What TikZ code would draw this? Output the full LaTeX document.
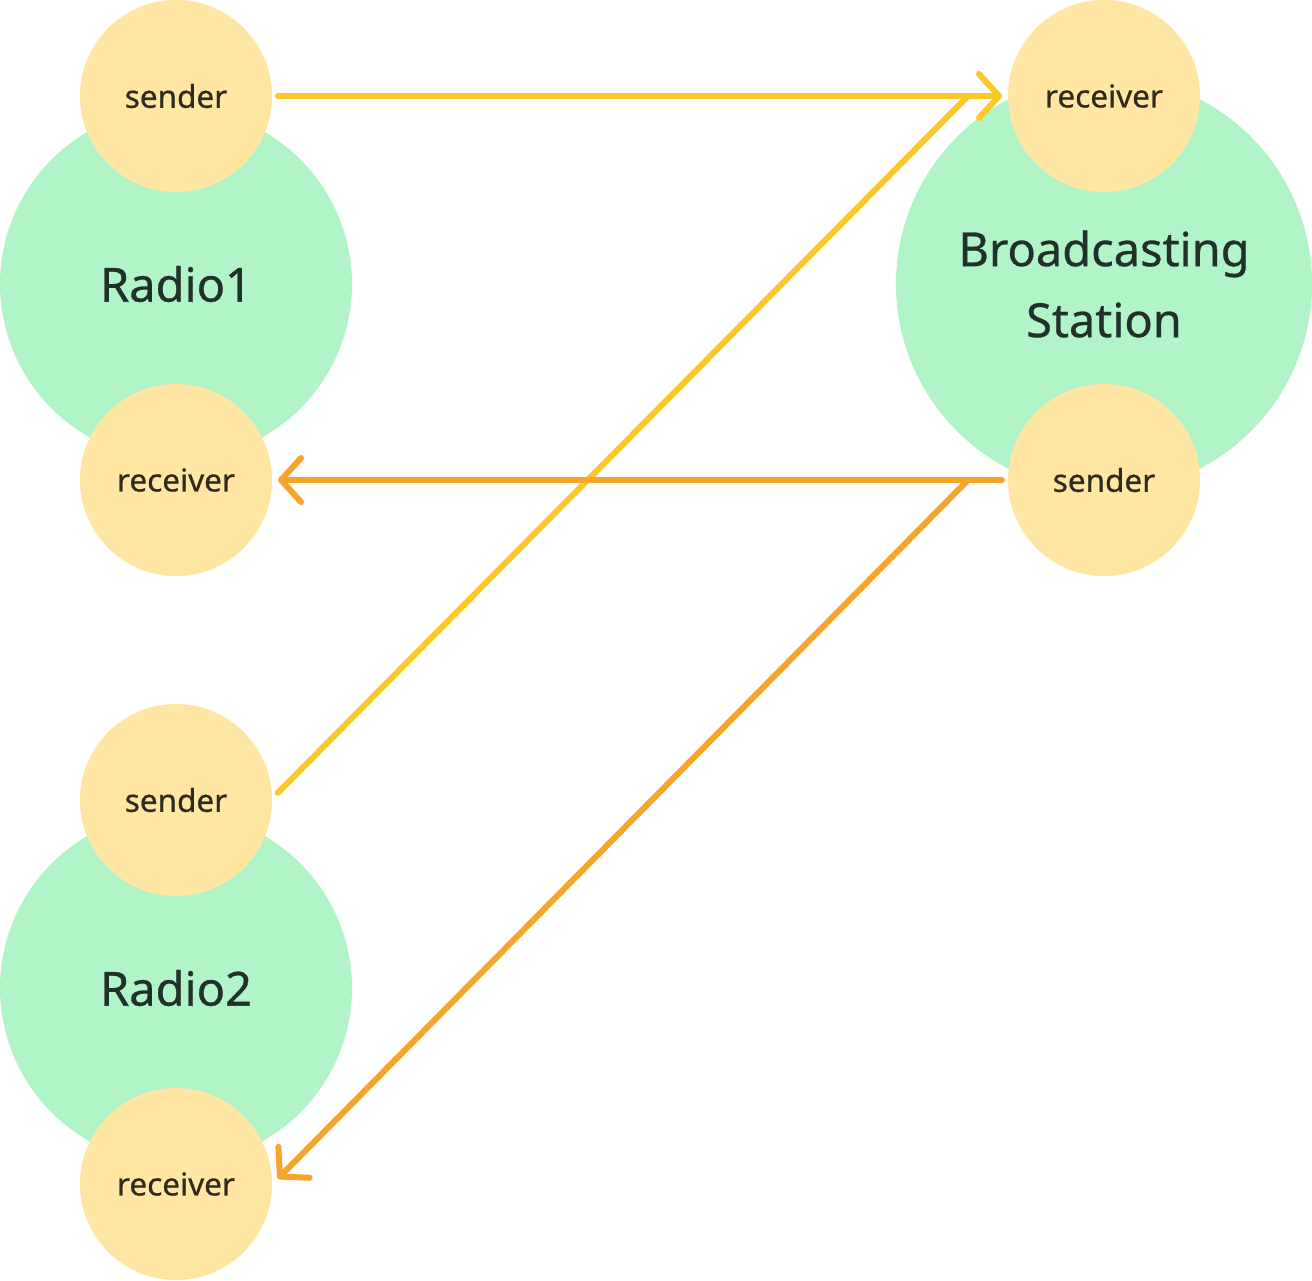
\documentclass[tikz,border=0pt]{standalone}
\usepackage{fontspec}
\setmainfont{Noto Sans}[FakeBold=0.6]
\usetikzlibrary{arrows.meta,calc}
\definecolor{gr}{HTML}{B0F4C8}
\definecolor{yl}{HTML}{FFE6A3}
\definecolor{ya}{HTML}{FBC82A}
\definecolor{oa}{HTML}{F6A52A}
\definecolor{tx}{HTML}{22302A}
\definecolor{ts}{HTML}{2E2A20}
\begin{document}
\begin{tikzpicture}[x=1pt,y=-1pt,
  big/.style={circle,fill=gr,inner sep=0pt,minimum size=352pt,text=tx,
    font=\fontsize{47}{71}\selectfont,align=center},
  port/.style={circle,fill=yl,inner sep=0pt,minimum size=192pt,outer sep=6pt,
    text=ts,font=\fontsize{31.5}{36}\selectfont},
  wire/.style={line width=6pt,line cap=round},
  conn/.style={wire,-{Straight Barb[length=20pt,width=44pt,round]}},
  ]
\useasboundingbox (0,0) rectangle (1312,1280);
\node[big] (r1) at (176,284) {Radio1};
\node[big,minimum size=416pt] (bs) at (1104,284) {Broadcasting\\Station};
\node[big] (r2) at (176,988) {Radio2};
\node[port] (r1s) at (176,96) {sender};
\node[port] (r1r) at (176,480) {receiver};
\node[port] (bsr) at (1104,96) {receiver};
\node[port] (bss) at (1104,480) {sender};
\node[port] (r2s) at (176,800) {sender};
\node[port] (r2r) at (176,1184) {receiver};
\coordinate (j1) at ($(bsr.west)+(-34,0)$);
\coordinate (j2) at ($(bss.west)+(-34,0)$);
\draw[conn,ya] (r1s.east) -- (bsr.west);
\draw[wire,ya] (r2s.4) -- (j1);
\draw[conn,oa] (bss.west) -- (r1r.east);
\draw[conn,oa] (j2) -- (r2r.3);
\end{tikzpicture}
\end{document}
